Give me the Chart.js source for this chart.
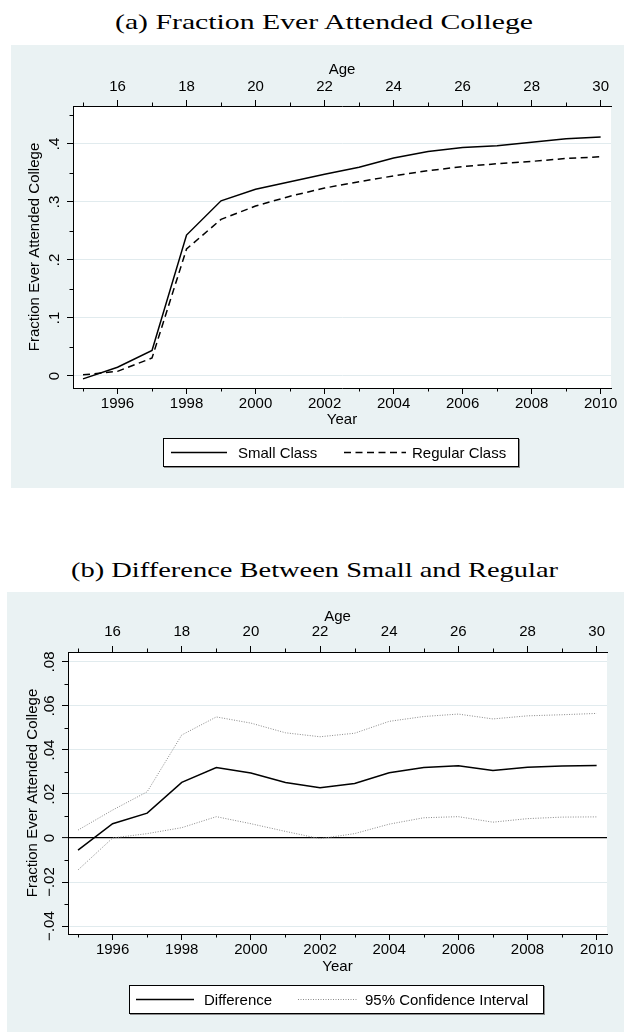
<!DOCTYPE html>
<html>
<head>
<meta charset="utf-8">
<script src="https://cdn.jsdelivr.net/npm/chart.js@4.4.1/dist/chart.umd.min.js"></script>
<style>
html, body { margin: 0; padding: 0; background: #ffffff; width: 624px; height: 1032px; overflow: hidden; }
.title { position: absolute; font-family: "Liberation Serif", "Times New Roman", serif; font-size: 21px; line-height: 26px; color: #000; white-space: nowrap; }
.panel { position: absolute; background: #eaf2f3; }
.panel canvas { position: absolute; left: 0; top: 0; }
.legend { position: absolute; background: #ffffff; border: 1px solid #000; box-sizing: border-box; box-shadow: 1px 1px 0 #8c8c8c; font-family: "Liberation Sans", Arial, sans-serif; font-size: 15px; color: #000; }
.legend span { position: absolute; top: 50%; transform: translateY(-50%); white-space: nowrap; line-height: 18px; }
.legend svg { position: absolute; top: 0; }
</style>
</head>
<body>
<div id="titleA" class="title">(a) Fraction Ever Attended College</div>
<div class="panel" style="left:11px; top:45px; width:613px; height:443px;">
  <canvas id="chartA" width="613" height="443"></canvas>
  <div class="legend" style="left:152px; top:393px; width:356px; height:29px;">
    <svg width="356" height="27"><line x1="7" y1="13.5" x2="63" y2="13.5" stroke="#000" stroke-width="1.5"/></svg>
    <span id="legA1" style="left:74px;"></span>
    <svg width="356" height="27"><line x1="180" y1="13.5" x2="242" y2="13.5" stroke="#000" stroke-width="1.5" stroke-dasharray="7 4.5"/></svg>
    <span id="legA2" style="left:248px;"></span>
  </div>
</div>

<div id="titleB" class="title">(b) Difference Between Small and Regular</div>
<div class="panel" style="left:7px; top:592px; width:617px; height:440px;">
  <canvas id="chartB" width="617" height="440"></canvas>
  <div class="legend" style="left:122px; top:393px; width:415px; height:29px;">
    <svg width="415" height="27"><line x1="6" y1="13.5" x2="64" y2="13.5" stroke="#000" stroke-width="1.5"/></svg>
    <span id="legB1" style="left:74px;"></span>
    <svg width="415" height="27"><line x1="168" y1="13.5" x2="227" y2="13.5" stroke="#8a8a8a" stroke-width="1" stroke-dasharray="1 1.5"/></svg>
    <span id="legB2" style="left:235px;"></span>
  </div>
</div>

<script>
// ---------------- data ----------------
const years = [1995, 1996, 1997, 1998, 1999, 2000, 2001, 2002, 2003, 2004, 2005, 2006, 2007, 2008, 2009, 2010];
const smallClass   = [-0.005, 0.015, 0.044, 0.243, 0.302, 0.322, 0.335, 0.348, 0.360, 0.376, 0.387, 0.394, 0.397, 0.403, 0.409, 0.412];
const regularClass = [0.002, 0.008, 0.031, 0.219, 0.270, 0.293, 0.310, 0.324, 0.335, 0.345, 0.354, 0.361, 0.366, 0.370, 0.375, 0.378];
const difference = [-0.0055, 0.0065, 0.0113, 0.0253, 0.0320, 0.0295, 0.0252, 0.0228, 0.0248, 0.0296, 0.0320, 0.0328, 0.0307, 0.0322, 0.0327, 0.0329];
const ciUpper    = [0.0036, 0.0127, 0.0210, 0.0468, 0.0550, 0.0522, 0.0478, 0.0460, 0.0476, 0.0530, 0.0552, 0.0563, 0.0541, 0.0555, 0.0560, 0.0566];
const ciLower    = [-0.0145, 0.0000, 0.0020, 0.0047, 0.0097, 0.0065, 0.0030, -0.0003, 0.0020, 0.0063, 0.0092, 0.0097, 0.0072, 0.0088, 0.0095, 0.0096];

const seriesNamesA = ['Small Class', 'Regular Class'];
const seriesNamesB = ['Difference', '95% Confidence Interval'];

// ---------------- ticks ----------------
const yearTicks = [1996, 1998, 2000, 2002, 2004, 2006, 2008, 2010];
const yearTickLabels = ['1996', '1998', '2000', '2002', '2004', '2006', '2008', '2010'];
const yearMinorTicks = [1995, 1997, 1999, 2001, 2003, 2005, 2007, 2009];
const ageTicks = [16, 18, 20, 22, 24, 26, 28, 30];
const ageTickLabels = ['16', '18', '20', '22', '24', '26', '28', '30'];
const ageMinorTicks = [15, 17, 19, 21, 23, 25, 27, 29];
const fracTicks = [0, 0.1, 0.2, 0.3, 0.4];
const fracTickLabels = ['0', '.1', '.2', '.3', '.4'];
const fracMinorTicks = [0.05, 0.15, 0.25, 0.35, 0.45];
const diffTicks = [-0.04, -0.02, 0, 0.02, 0.04, 0.06, 0.08];
const diffTickLabels = ['\u2212.04', '\u2212.02', '0', '.02', '.04', '.06', '.08'];
const diffMinorTicks = [-0.03, -0.01, 0.01, 0.03, 0.05, 0.07];
const ageAtYearZero = 1980; // age = year - 1980

// ---------------- titles & legends text ----------------
document.getElementById('legA1').textContent = seriesNamesA[0];
document.getElementById('legA2').textContent = seriesNamesA[1];
document.getElementById('legB1').textContent = seriesNamesB[0];
document.getElementById('legB2').textContent = seriesNamesB[1];

function fitTitle(id, cx, cy, targetW) {
  const el = document.getElementById(id);
  const r = el.getBoundingClientRect();
  el.style.transformOrigin = '0 0';
  el.style.transform = 'scaleX(' + (targetW / r.width) + ')';
  el.style.left = (cx - targetW / 2) + 'px';
  el.style.top = (cy - r.height / 2) + 'px';
}
fitTitle('titleA', 324, 21.5, 418);
fitTitle('titleB', 314, 569.5, 487);

// ---------------- helpers ----------------
const FONT = { family: '"Liberation Sans", Arial, sans-serif', size: 15 };
const GRID = '#e1ebee';

const plotBg = {
  id: 'plotBg',
  beforeDraw(chart) {
    const { ctx, chartArea: a } = chart;
    ctx.save();
    ctx.fillStyle = '#ffffff';
    ctx.fillRect(a.left, a.top, a.right - a.left, a.bottom - a.top);
    ctx.restore();
  }
};

function minorTicks(sets) {
  return {
    id: 'minorTicks',
    afterDraw(chart) {
      const ctx = chart.ctx;
      ctx.save();
      ctx.strokeStyle = '#000';
      ctx.lineWidth = 1;
      sets.forEach(set => {
        const s = chart.scales[set.scale];
        set.values.forEach(v => {
          const q = Math.round(s.getPixelForValue(v)) + 0.5;
          ctx.beginPath();
          if (s.position === 'bottom') { ctx.moveTo(q, s.top); ctx.lineTo(q, s.top + 3.5); }
          else if (s.position === 'top') { ctx.moveTo(q, s.bottom); ctx.lineTo(q, s.bottom - 3.5); }
          else { ctx.moveTo(s.right, q); ctx.lineTo(s.right - 3.5, q); }
          ctx.stroke();
        });
      });
      ctx.restore();
    }
  };
}

function pts(ys) { return years.map((x, i) => ({ x: x, y: ys[i] })); }

function makeChart(canvasId, cfg) {
  const xMin = 1994.71, xMax = 2010.30;
  return new Chart(document.getElementById(canvasId), {
    type: 'line',
    data: { datasets: cfg.datasets },
    options: {
      responsive: false,
      animation: false,
      devicePixelRatio: 1,
      layout: { padding: cfg.padding },
      plugins: { legend: { display: false }, tooltip: { enabled: false } },
      elements: { point: { radius: 0 }, line: { tension: 0 } },
      scales: {
        x: {
          type: 'linear', axis: 'x', position: 'bottom', min: xMin, max: xMax, bounds: 'data',
          afterBuildTicks: s => { s.ticks = yearTicks.map(v => ({ value: v })); },
          afterFit: s => { s.height = cfg.bottomH; },
          ticks: { callback: (v, i) => yearTickLabels[i], font: FONT, color: '#000', padding: cfg.xPad, autoSkip: false, minRotation: 0, maxRotation: 0 },
          grid: { drawOnChartArea: false, tickLength: 6, tickColor: '#000', tickWidth: 1 },
          border: { display: true, color: '#000', width: 1 },
          title: { display: true, text: 'Year', font: FONT, color: '#000', padding: { top: 0, bottom: 0 } }
        },
        x2: {
          type: 'linear', axis: 'x', position: 'top', min: xMin - ageAtYearZero, max: xMax - ageAtYearZero, bounds: 'data',
          afterBuildTicks: s => { s.ticks = ageTicks.map(v => ({ value: v })); },
          afterFit: s => { s.height = cfg.topH; },
          ticks: { callback: (v, i) => ageTickLabels[i], font: FONT, color: '#000', padding: cfg.x2Pad, autoSkip: false, minRotation: 0, maxRotation: 0 },
          grid: { drawOnChartArea: false, tickLength: 6, tickColor: '#000', tickWidth: 1 },
          border: { display: true, color: '#000', width: 1 },
          title: { display: true, text: 'Age', font: FONT, color: '#000', padding: { top: 0, bottom: 0 } }
        },
        y: {
          type: 'linear', axis: 'y', position: 'left', min: cfg.yMin, max: cfg.yMax, bounds: 'data',
          afterBuildTicks: s => { s.ticks = cfg.yTicks.map(v => ({ value: v })); },
          afterFit: s => { s.width = cfg.leftW; },
          ticks: { callback: (v, i) => cfg.yTickLabels[i], font: FONT, color: '#000', padding: cfg.yPad, autoSkip: false, minRotation: 90, maxRotation: 90, crossAlign: 'center' },
          grid: {
            drawOnChartArea: true, tickLength: 6, tickColor: '#000', tickWidth: 1,
            color: c => (cfg.zeroLine && c.tick && Math.abs(c.tick.value) < 1e-9) ? '#000' : GRID,
            lineWidth: c => (cfg.zeroLine && c.tick && Math.abs(c.tick.value) < 1e-9) ? 1.2 : 1
          },
          border: { display: true, color: '#000', width: 1 },
          title: { display: true, text: 'Fraction Ever Attended College', font: FONT, color: '#000', padding: { top: 0, bottom: 0 } }
        }
      }
    },
    plugins: [plotBg, minorTicks(cfg.minor)]
  });
}

makeChart('chartA', {
  padding: { left: 15, right: 13, top: 16, bottom: 59 },
  topH: 45, bottomH: 41, leftW: 47,
  xPad: 1, x2Pad: 4, yPad: 6,
  yMin: -0.0207, yMax: 0.4655,
  yTicks: fracTicks, yTickLabels: fracTickLabels,
  zeroLine: false,
  minor: [
    { scale: 'x', values: yearMinorTicks },
    { scale: 'x2', values: ageMinorTicks },
    { scale: 'y', values: fracMinorTicks }
  ],
  datasets: [
    { label: seriesNamesA[0], data: pts(smallClass), borderColor: '#000', borderWidth: 1.5, xAxisID: 'x', yAxisID: 'y' },
    { label: seriesNamesA[1], data: pts(regularClass), borderColor: '#000', borderWidth: 1.5, borderDash: [7, 4.5], xAxisID: 'x', yAxisID: 'y' }
  ]
});

makeChart('chartB', {
  padding: { left: 17, right: 17, top: 16, bottom: 56 },
  topH: 44, bottomH: 42, leftW: 44,
  xPad: 1, x2Pad: 5, yPad: -3,
  yMin: -0.0436, yMax: 0.0845,
  yTicks: diffTicks, yTickLabels: diffTickLabels,
  zeroLine: true,
  minor: [
    { scale: 'x', values: yearMinorTicks },
    { scale: 'x2', values: ageMinorTicks },
    { scale: 'y', values: diffMinorTicks }
  ],
  datasets: [
    { label: seriesNamesB[0], data: pts(difference), borderColor: '#000', borderWidth: 1.5, xAxisID: 'x', yAxisID: 'y' },
    { label: seriesNamesB[1], data: pts(ciUpper), borderColor: '#8a8a8a', borderWidth: 1, borderDash: [1, 1.5], xAxisID: 'x', yAxisID: 'y' },
    { label: seriesNamesB[1], data: pts(ciLower), borderColor: '#8a8a8a', borderWidth: 1, borderDash: [1, 1.5], xAxisID: 'x', yAxisID: 'y' }
  ]
});
</script>
</body>
</html>
